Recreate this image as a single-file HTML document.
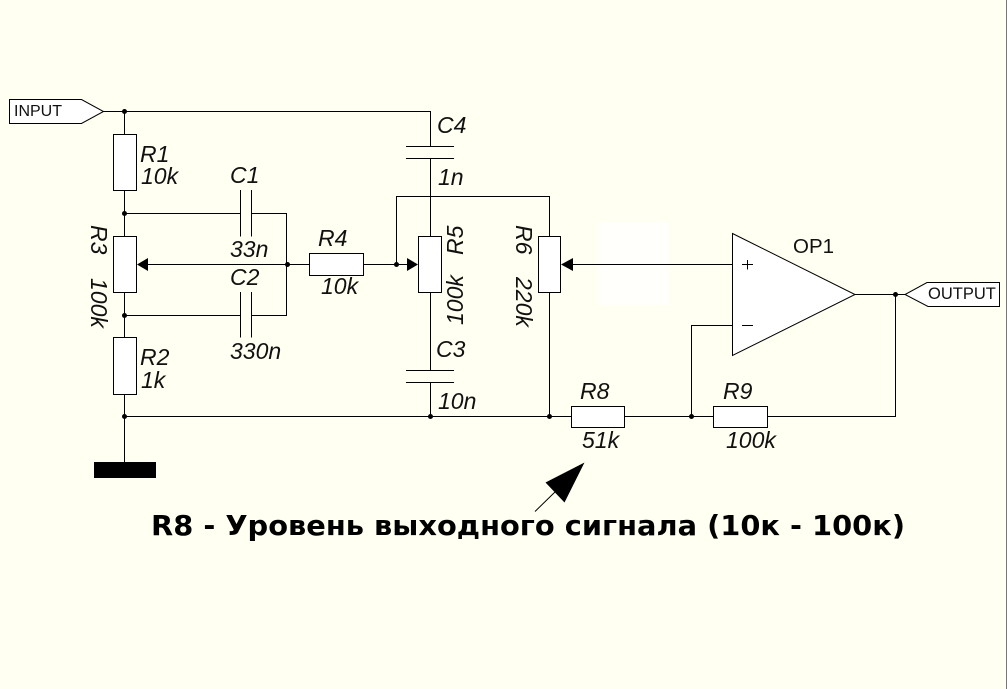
<!DOCTYPE html>
<html><head><meta charset="utf-8"><style>
html,body{margin:0;padding:0;background:#fffff2}
svg{display:block}
.w{fill:none;stroke:#000;stroke-width:1}
.b{fill:#fff;stroke:#000;stroke-width:1}
.t{font-family:"Liberation Sans",sans-serif;font-style:italic;font-size:23px;fill:#111}
.n{font-family:"Liberation Sans",sans-serif;fill:#111}
</style></head><body>
<svg width="1007" height="689" viewBox="0 0 1007 689" xmlns="http://www.w3.org/2000/svg">
<rect width="1007" height="689" fill="#fffff2"/>
<rect x="1006" y="0" width="1" height="689" fill="#777"/>
<rect x="599" y="222" width="70" height="83" fill="#fffffb"/>
<path class="w" d="M103 111.500H430.500V146M430.500 158V236M396.500 264V196.500H549.500V236M549.500 293V416.500M430.500 293V370M430.500 382V416.500
M124.500 111V134M124.500 190V236M124.500 292V337M124.500 395V462
M124.500 213.500H240M251 213.500H286.500V315.500H251M240 315.500H124.500
M148 264.500H309M363 264.500H407
M573 264.500H732M124.500 416.500H571M625 416.500H713M768 416.500H895.500V294.500M855 294.500H905
M691.500 416.500V325.500H732"/>
<!-- capacitors -->
<path class="w" d="M240.500 190V236.500M251.500 190V236.500M240.500 292V337.500M251.500 292V337.500M406 146.500H454M406 158.500H454M406 370.500H454M406 382.500H454"/>
<!-- resistors -->
<rect class="b" x="113.500" y="134.500" width="23" height="56"/>
<rect class="b" x="113.500" y="236.500" width="23" height="56"/>
<rect class="b" x="113.500" y="337.500" width="23" height="57"/>
<rect class="b" x="309.500" y="253.500" width="54" height="22"/>
<rect class="b" x="418.500" y="236.500" width="23" height="56"/>
<rect class="b" x="538.500" y="236.500" width="22" height="56"/>
<rect class="b" x="571.500" y="406.500" width="53" height="21"/>
<rect class="b" x="713.500" y="406.500" width="54" height="21"/>
<!-- wiper arrows -->
<path d="M137 264.500L148 258V271Z"/>
<path d="M418 264.500L407 258V271Z"/>
<path d="M561 264.500L573 258V271Z"/>
<!-- junctions -->
<g>
<circle cx="124.500" cy="111.500" r="2.500"/>
<circle cx="124.500" cy="213.500" r="2.500"/>
<circle cx="124.500" cy="315.500" r="2.500"/>
<circle cx="124.500" cy="416.500" r="2.500"/>
<circle cx="287.500" cy="264.500" r="2.500"/>
<circle cx="396.500" cy="264.500" r="2.500"/>
<circle cx="430.500" cy="416.500" r="2.500"/>
<circle cx="549.500" cy="416.500" r="2.500"/>
<circle cx="691.500" cy="416.500" r="2.500"/>
<circle cx="895.500" cy="294.500" r="2.500"/>
</g>
<rect x="94" y="462" width="62" height="16" fill="#000"/>
<!-- op amp -->
<path class="b" d="M732.500 233.500L855 294.500L732.500 355.500Z"/>
<path class="w" d="M742 264.500H753M747.500 260V269.500M742 325.500H753"/>
<!-- ports -->
<path class="b" d="M9.500 99.500H81.500L103.500 111.500L81.500 123.500H9.500Z"/>
<path class="b" d="M999.500 282.500H927L905 294.500L928 306.500H999.500Z"/>
<text class="n" x="14" y="116" font-size="16">INPUT</text>
<text class="n" x="928" y="299" font-size="16.500">OUTPUT</text>
<text class="n" x="793" y="253" font-size="20.500">OP1</text>
<!-- labels -->
<text class="t" x="140" y="162">R1</text>
<text class="t" x="141" y="184">10k</text>
<text class="t" x="230" y="183">C1</text>
<text class="t" x="230" y="257">33n</text>
<text class="t" x="230" y="285">C2</text>
<text class="t" x="230" y="359">330n</text>
<text class="t" x="140" y="365">R2</text>
<text class="t" x="141" y="388">1k</text>
<text class="t" x="318" y="246">R4</text>
<text class="t" x="321" y="294">10k</text>
<text class="t" x="437" y="133">C4</text>
<text class="t" x="438" y="185">1n</text>
<text class="t" x="436" y="357">C3</text>
<text class="t" x="438" y="409">10n</text>
<text class="t" x="580" y="399">R8</text>
<text class="t" x="582" y="448">51k</text>
<text class="t" x="723" y="399">R9</text>
<text class="t" x="726" y="448">100k</text>
<text class="t" transform="translate(91 225) rotate(90)">R3</text>
<text class="t" transform="translate(91 278) rotate(90)">100k</text>
<text class="t" transform="translate(463 255) rotate(-90)">R5</text>
<text class="t" transform="translate(463 325) rotate(-90)">100k</text>
<text class="t" transform="translate(516 225) rotate(90)">R6</text>
<text class="t" transform="translate(516 277) rotate(90)">220k</text>
<!-- annotation -->
<path d="M584.500 462.500L545.500 482.500L564.500 502.500Z"/>
<path class="w" d="M535 511.500L556 491"/>
<text x="151" y="535" font-family="'DejaVu Sans',sans-serif" font-weight="700" font-size="28" textLength="754" lengthAdjust="spacingAndGlyphs" fill="#000">R8 - Уровень выходного сигнала (10к - 100к)</text>
</svg>
</body></html>
